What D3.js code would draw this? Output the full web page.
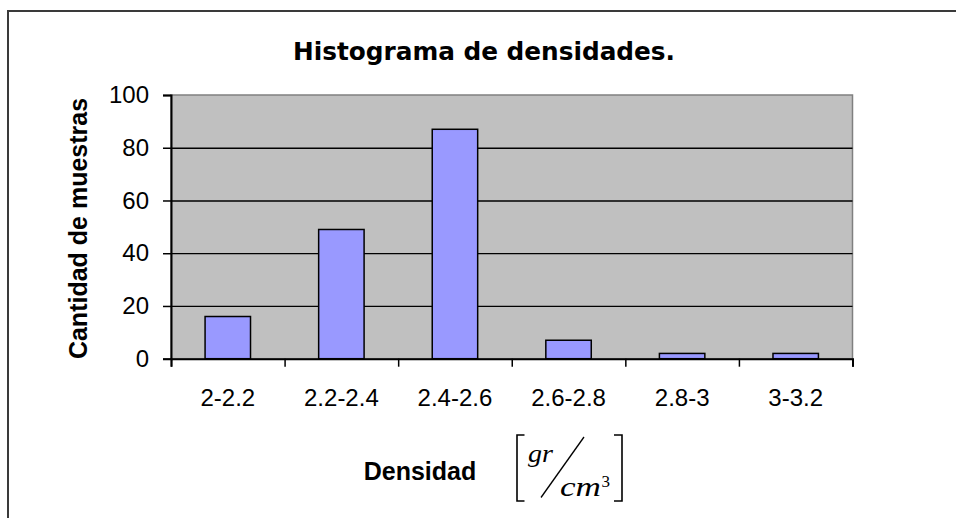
<!DOCTYPE html>
<html>
<head>
<meta charset="utf-8">
<script src="https://cdn.jsdelivr.net/npm/d3@7"></script>
<style>
  html, body { margin: 0; padding: 0; background: #fff; }
  svg { display: block; }
</style>
</head>
<body>
<div id="chart"></div>
<script>
const width = 956;
const height = 518;

// histogram data
const categories = ["2-2.2", "2.2-2.4", "2.4-2.6", "2.6-2.8", "2.8-3", "3-3.2"];
const counts = [16, 49, 87, 7, 2, 2];
const yTicks = [0, 20, 40, 60, 80, 100];

const plot = { left: 171, right: 852.5, top: 95, bottom: 358.7 };

const svg = d3.select("#chart")
    .append("svg")
    .attr("width", width)
    .attr("height", height);

// outer chart border (continues past the bottom/right of the picture)
svg.append("rect")
    .attr("x", 8)
    .attr("y", 11)
    .attr("width", 1000)
    .attr("height", 600)
    .attr("fill", "#fff")
    .attr("stroke", "#3a3a3a")
    .attr("stroke-width", 2);

const x = d3.scaleBand()
    .domain(categories)
    .range([plot.left, plot.right])
    .paddingInner(0.6)
    .paddingOuter(0.3);

const xEdge = d3.scaleLinear()
    .domain([0, categories.length])
    .range([plot.left, plot.right]);

const y = d3.scaleLinear()
    .domain([0, 100])
    .range([plot.bottom, plot.top]);

// plot area
svg.append("rect")
    .attr("x", plot.left)
    .attr("y", plot.top)
    .attr("width", plot.right - plot.left)
    .attr("height", plot.bottom - plot.top)
    .attr("fill", "#c0c0c0")
    .attr("stroke", "#808080")
    .attr("stroke-width", 1.5);

// gridlines
svg.append("g")
    .attr("transform", `translate(${plot.left},0)`)
    .call(d3.axisLeft(y).tickValues(yTicks.filter(v => v > 0 && v < 100)).tickSize(-(plot.right - plot.left)).tickFormat(""))
    .call(g => g.select(".domain").remove())
    .selectAll("line")
    .attr("stroke", "#000")
    .attr("stroke-width", 1.3);

// bars
svg.append("g")
    .selectAll("rect")
    .data(counts)
    .enter().append("rect")
    .attr("x", (d, i) => x(categories[i]))
    .attr("y", d => y(d))
    .attr("width", x.bandwidth())
    .attr("height", d => y(0) - y(d))
    .attr("fill", "#9999ff")
    .attr("stroke", "#000")
    .attr("stroke-width", 1.5);

// y axis
const yAxis = svg.append("g")
    .attr("transform", `translate(${plot.left},0)`)
    .call(d3.axisLeft(y).tickValues(yTicks).tickSize(8).tickPadding(14));
yAxis.select(".domain").attr("stroke", "#000").attr("stroke-width", 2);
yAxis.selectAll("line").attr("stroke", "#000").attr("stroke-width", 1.5);
yAxis.selectAll("text")
    .attr("font-family", "Liberation Sans, Arial, sans-serif")
    .attr("font-size", 24)
    .attr("fill", "#000");

// x axis ticks at bin edges
const xAxis = svg.append("g")
    .attr("transform", `translate(0,${plot.bottom})`)
    .call(d3.axisBottom(xEdge).ticks(categories.length).tickSize(8).tickFormat(""));
xAxis.select(".domain").attr("stroke", "#000").attr("stroke-width", 2);
xAxis.selectAll("line").attr("stroke", "#000").attr("stroke-width", 1.5);

// x category labels
const xLabels = svg.append("g")
    .attr("transform", `translate(0,${plot.bottom})`)
    .call(d3.axisBottom(x).tickSize(0).tickPadding(30));
xLabels.select(".domain").remove();
xLabels.selectAll("text")
    .attr("font-family", "Liberation Sans, Arial, sans-serif")
    .attr("font-size", 24)
    .attr("fill", "#000");

// title
svg.append("text")
    .attr("x", 484)
    .attr("y", 60)
    .attr("text-anchor", "middle")
    .attr("font-family", "DejaVu Sans, Verdana, sans-serif")
    .attr("font-weight", "bold")
    .attr("font-size", 24)
    .attr("textLength", 382)
    .attr("lengthAdjust", "spacingAndGlyphs")
    .text("Histograma de densidades.");

// y axis title
svg.append("text")
    .attr("transform", "translate(87,228.5) rotate(-90)")
    .attr("text-anchor", "middle")
    .attr("font-family", "Liberation Sans, Arial, sans-serif")
    .attr("font-weight", "bold")
    .attr("font-size", 25)
    .text("Cantidad de muestras");

// x axis title + unit
svg.append("text")
    .attr("x", 420)
    .attr("y", 480)
    .attr("text-anchor", "middle")
    .attr("font-family", "Liberation Sans, Arial, sans-serif")
    .attr("font-weight", "bold")
    .attr("font-size", 25)
    .text("Densidad");

const unit = svg.append("g")
    .attr("fill", "none")
    .attr("stroke", "#000")
    .attr("stroke-width", 1.6);
unit.append("path").attr("d", "M524.5,435H517V501H524.5");
unit.append("path").attr("d", "M614,435H622V501H614");
unit.append("line")
    .attr("x1", 541).attr("y1", 497.5)
    .attr("x2", 584).attr("y2", 437)
    .attr("stroke-width", 1.3);

const serif = "Liberation Serif, Times New Roman, serif";
svg.append("text")
    .attr("x", 528)
    .attr("y", 462)
    .attr("font-family", serif)
    .attr("font-style", "italic")
    .attr("font-size", 26)
    .attr("textLength", 25)
    .attr("lengthAdjust", "spacingAndGlyphs")
    .text("gr");
svg.append("text")
    .attr("x", 560)
    .attr("y", 495.5)
    .attr("font-family", serif)
    .attr("font-style", "italic")
    .attr("font-size", 28)
    .attr("textLength", 41)
    .attr("lengthAdjust", "spacingAndGlyphs")
    .text("cm");
svg.append("text")
    .attr("x", 601.5)
    .attr("y", 486.5)
    .attr("font-family", serif)
    .attr("font-size", 17)
    .text("3");
</script>
</body>
</html>
